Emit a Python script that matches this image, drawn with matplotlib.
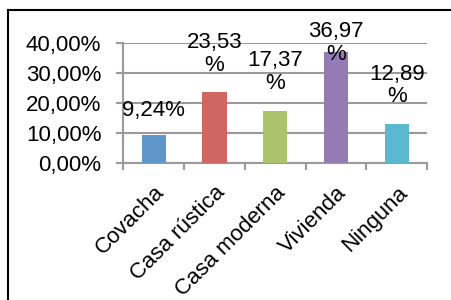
import matplotlib.pyplot as plt
from matplotlib.lines import Line2D

# tipo de vivienda (porcentaje)
categorias = ["Covacha", "Casa rústica", "Casa moderna", "Vivienda", "Ninguna"]
porcentajes = [9.24, 23.53, 17.37, 36.97, 12.89]
etiquetas = ["9,24%", "23,53\n%", "17,37\n%", "36,97\n%", "12,89\n%"]
colores = ["#6097CB", "#CE6661", "#ABC46B", "#937BB3", "#5BB8D1"]
# desplazamiento vertical de cada etiqueta (puntos)
desplaz = [10, 12, 12, -9, 12]

plt.rcParams["font.family"] = ["Liberation Sans", "DejaVu Sans"]
gris = "#9A9A9A"
fs = 16

fig = plt.figure(figsize=(4.51, 3.0), dpi=100)
ax = fig.add_axes([0.2738, 0.4583, 0.673, 0.3983])

x = range(len(categorias))
ax.bar(x, porcentajes, width=0.4, color=colores, zorder=3)

for i, (v, t) in enumerate(zip(porcentajes, etiquetas)):
    ax.annotate(t, (i, v), xytext=(0, desplaz[i]), textcoords="offset points",
                ha="center", va="bottom", multialignment="center",
                fontsize=fs, linespacing=1.1, zorder=4)

ax.set_xlim(-0.5, len(categorias) - 0.5)
ax.set_ylim(0, 40)
ax.set_yticks([0, 10, 20, 30, 40])
ax.set_yticklabels([f"{t:.2f}%".replace(".", ",") for t in [0, 10, 20, 30, 40]])
ax.grid(axis="y", color=gris, linewidth=1.5, zorder=0)

ax.set_xticks(list(x))
ax.set_xticklabels(categorias, rotation=45, ha="right", va="top",
                   rotation_mode="anchor")
ax.set_xticks([i - 0.5 for i in range(len(categorias) + 1)], minor=True)
ax.tick_params(axis="x", which="major", length=0, pad=14, labelsize=fs)
ax.tick_params(axis="x", which="minor", length=5, width=1.5, color=gris)
ax.tick_params(axis="y", length=5, width=1.5, color=gris, pad=11, labelsize=fs)

for s in ["top", "right"]:
    ax.spines[s].set_visible(False)
for s in ["left", "bottom"]:
    ax.spines[s].set_color(gris)
    ax.spines[s].set_linewidth(1.5)

# marco del gráfico
fig.add_artist(Line2D([8 / 451, 8 / 451], [0, 1 - 10 / 300], color="black", lw=1.5))
fig.add_artist(Line2D([8 / 451, 1], [1 - 10 / 300, 1 - 10 / 300], color="black", lw=1.5))

fig.savefig("out.png", dpi=100)
